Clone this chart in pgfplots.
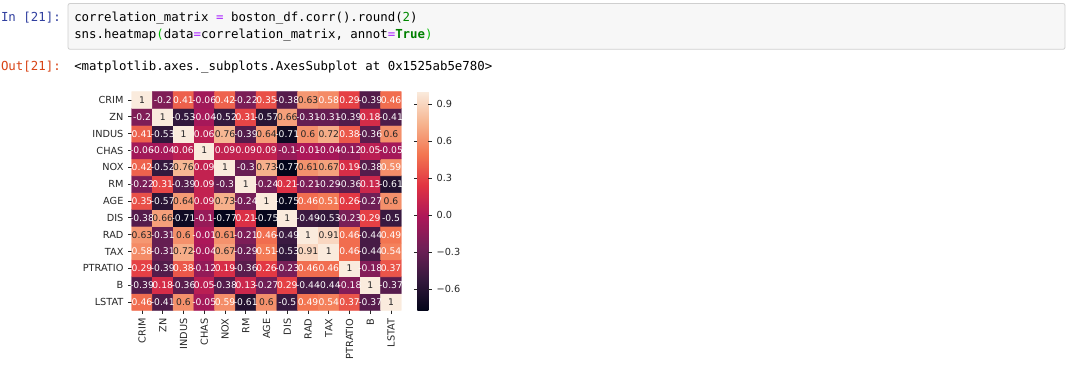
\documentclass[border=0pt]{standalone}
\usepackage{pgfplots}
\pgfplotsset{compat=1.18}
\usepackage{pgfplotstable}
\usepackage{fontspec}
\setmainfont{DejaVu Sans}
\setmonofont{DejaVu Sans Mono}
\definecolor{cdark}{HTML}{262626}
\definecolor{inblue}{HTML}{303F9F}
\definecolor{outred}{HTML}{D84315}
\definecolor{cellbg}{HTML}{F7F7F7}
\definecolor{cellbd}{HTML}{CFCFCF}
\definecolor{oppurple}{HTML}{AA22FF}
\definecolor{numgreen}{HTML}{008800}
\definecolor{kwgreen}{HTML}{008000}
\definecolor{brgreen}{HTML}{00BB00}
\pgfplotsset{
  colormap={rocket}{rgb255(0pt)=(3,5,26); rgb255(143pt)=(53,25,62); rgb255(286pt)=(112,31,87); rgb255(429pt)=(173,23,89); rgb255(571pt)=(225,51,66); rgb255(714pt)=(243,118,81); rgb255(857pt)=(246,180,143); rgb255(1000pt)=(250,235,221)}
}
\pgfplotstableread[row sep=\\]{
x y v\\
0 0 0.46\\ 1 0 -0.41\\ 2 0 0.6\\ 3 0 -0.05\\ 4 0 0.59\\ 5 0 -0.61\\ 6 0 0.6\\ 7 0 -0.5\\ 8 0 0.49\\ 9 0 0.54\\ 10 0 0.37\\ 11 0 -0.37\\ 12 0 1\\
0 1 -0.39\\ 1 1 0.18\\ 2 1 -0.36\\ 3 1 0.05\\ 4 1 -0.38\\ 5 1 0.13\\ 6 1 -0.27\\ 7 1 0.29\\ 8 1 -0.44\\ 9 1 -0.44\\ 10 1 -0.18\\ 11 1 1\\ 12 1 -0.37\\
0 2 0.29\\ 1 2 -0.39\\ 2 2 0.38\\ 3 2 -0.12\\ 4 2 0.19\\ 5 2 -0.36\\ 6 2 0.26\\ 7 2 -0.23\\ 8 2 0.46\\ 9 2 0.46\\ 10 2 1\\ 11 2 -0.18\\ 12 2 0.37\\
0 3 0.58\\ 1 3 -0.31\\ 2 3 0.72\\ 3 3 -0.04\\ 4 3 0.67\\ 5 3 -0.29\\ 6 3 0.51\\ 7 3 -0.53\\ 8 3 0.91\\ 9 3 1\\ 10 3 0.46\\ 11 3 -0.44\\ 12 3 0.54\\
0 4 0.63\\ 1 4 -0.31\\ 2 4 0.6\\ 3 4 -0.01\\ 4 4 0.61\\ 5 4 -0.21\\ 6 4 0.46\\ 7 4 -0.49\\ 8 4 1\\ 9 4 0.91\\ 10 4 0.46\\ 11 4 -0.44\\ 12 4 0.49\\
0 5 -0.38\\ 1 5 0.66\\ 2 5 -0.71\\ 3 5 -0.1\\ 4 5 -0.77\\ 5 5 0.21\\ 6 5 -0.75\\ 7 5 1\\ 8 5 -0.49\\ 9 5 -0.53\\ 10 5 -0.23\\ 11 5 0.29\\ 12 5 -0.5\\
0 6 0.35\\ 1 6 -0.57\\ 2 6 0.64\\ 3 6 0.09\\ 4 6 0.73\\ 5 6 -0.24\\ 6 6 1\\ 7 6 -0.75\\ 8 6 0.46\\ 9 6 0.51\\ 10 6 0.26\\ 11 6 -0.27\\ 12 6 0.6\\
0 7 -0.22\\ 1 7 0.31\\ 2 7 -0.39\\ 3 7 0.09\\ 4 7 -0.3\\ 5 7 1\\ 6 7 -0.24\\ 7 7 0.21\\ 8 7 -0.21\\ 9 7 -0.29\\ 10 7 -0.36\\ 11 7 0.13\\ 12 7 -0.61\\
0 8 0.42\\ 1 8 -0.52\\ 2 8 0.76\\ 3 8 0.09\\ 4 8 1\\ 5 8 -0.3\\ 6 8 0.73\\ 7 8 -0.77\\ 8 8 0.61\\ 9 8 0.67\\ 10 8 0.19\\ 11 8 -0.38\\ 12 8 0.59\\
0 9 -0.06\\ 1 9 -0.04\\ 2 9 0.06\\ 3 9 1\\ 4 9 0.09\\ 5 9 0.09\\ 6 9 0.09\\ 7 9 -0.1\\ 8 9 -0.01\\ 9 9 -0.04\\ 10 9 -0.12\\ 11 9 0.05\\ 12 9 -0.05\\
0 10 0.41\\ 1 10 -0.53\\ 2 10 1\\ 3 10 0.06\\ 4 10 0.76\\ 5 10 -0.39\\ 6 10 0.64\\ 7 10 -0.71\\ 8 10 0.6\\ 9 10 0.72\\ 10 10 0.38\\ 11 10 -0.36\\ 12 10 0.6\\
0 11 -0.2\\ 1 11 1\\ 2 11 -0.53\\ 3 11 -0.04\\ 4 11 -0.52\\ 5 11 0.31\\ 6 11 -0.57\\ 7 11 0.66\\ 8 11 -0.31\\ 9 11 -0.31\\ 10 11 -0.39\\ 11 11 0.18\\ 12 11 -0.41\\
0 12 1\\ 1 12 -0.2\\ 2 12 0.41\\ 3 12 -0.06\\ 4 12 0.42\\ 5 12 -0.22\\ 6 12 0.35\\ 7 12 -0.38\\ 8 12 0.63\\ 9 12 0.58\\ 10 12 0.29\\ 11 12 -0.39\\ 12 12 0.46\\
}\corr
\begin{document}
\begin{tikzpicture}[x=0.75pt,y=-0.75pt]
\path[use as bounding box] (0,0) rectangle (1071,373);
% notebook cell
\draw[fill=cellbg, draw=cellbd, line width=0.6pt, rounded corners=1.5pt] (68,3.5) rectangle (1065,49.3);
\begin{scope}[every node/.style={inner sep=0pt, font=\ttfamily\fontsize{9.3}{11}\selectfont}]
\node[anchor=base east, text=inblue] at (61,22) {In [21]:};
\node[anchor=base west, text=black] at (74,22) {correlation\_matrix {\color{oppurple}=} boston\_df.corr().round({\color{numgreen}2})};
\node[anchor=base west, text=black] at (74,39) {sns.heatmap{\color{brgreen}(}data{\color{oppurple}=}correlation\_matrix, annot{\color{oppurple}=}{\color{kwgreen}\bfseries True}{\color{brgreen})}};
\node[anchor=base east, text=outred] at (61,70.5) {Out[21]:};
\node[anchor=base west, text=black] at (74,70.5) {<matplotlib.axes.\_subplots.AxesSubplot at 0x1525ab5e780>};
\end{scope}
\begin{axis}[
  at={(98.7pt,-68.7pt)}, anchor=north west,
  scale only axis, width=202.35pt, height=164.1pt,
  xmin=-0.5, xmax=12.5, ymin=-0.5, ymax=12.5,
  enlargelimits=false,
  colormap name=rocket,
  point meta min=-0.77, point meta max=1,
  axis line style={draw=none},
  tick align=outside, major tick length=2.6pt,
  tick pos=left,
  tick style={cdark, line width=0.6pt},
  xtick={0,...,12}, ytick={0,...,12},
  xticklabels={CRIM,ZN,INDUS,CHAS,NOX,RM,AGE,DIS,RAD,TAX,PTRATIO,B,LSTAT},
  yticklabels={LSTAT,B,PTRATIO,TAX,RAD,DIS,AGE,RM,NOX,CHAS,INDUS,ZN,CRIM},
  tick label style={font=\fontsize{7.3}{8}\selectfont, text=cdark},
  xticklabel style={rotate=90, anchor=east},
  /pgf/number format/assume math mode=true,
  colorbar,
  colorbar style={
    at={(parent axis.north east)}, anchor=north west, xshift=3.5pt,
    width=8.25pt,
    ytick={-0.6,-0.3,0,0.3,0.6,0.9},
    yticklabels={−0.6,−0.3,0.0,0.3,0.6,0.9},
    axis line style={draw=none},
    tick align=outside, major tick length=2.6pt,
    ytick style={cdark, line width=0.6pt},
    yticklabel style={font=\fontsize{7.3}{8}\selectfont, text=cdark},
  },
]
\addplot[matrix plot*, mesh/cols=13, mesh/rows=13, point meta=explicit] table[x=x, y=y, meta=v] {\corr};
\addplot[draw=none, mark=none, unbounded coords=discard,
  y filter/.expression={\thisrow{v}>0.595 ? nan : y},
  point meta=explicit symbolic, nodes near coords,
  nodes near coords style={font=\fontsize{6.9}{7}\selectfont, text=white, anchor=center, inner sep=0pt}]
  table[x=x, y=y, meta=v] {\corr};
\addplot[draw=none, mark=none, unbounded coords=discard,
  y filter/.expression={\thisrow{v}>0.595 ? y : nan},
  point meta=explicit symbolic, nodes near coords,
  nodes near coords style={font=\fontsize{6.9}{7}\selectfont, text=cdark, anchor=center, inner sep=0pt}]
  table[x=x, y=y, meta=v] {\corr};
\end{axis}
\end{tikzpicture}
\end{document}
